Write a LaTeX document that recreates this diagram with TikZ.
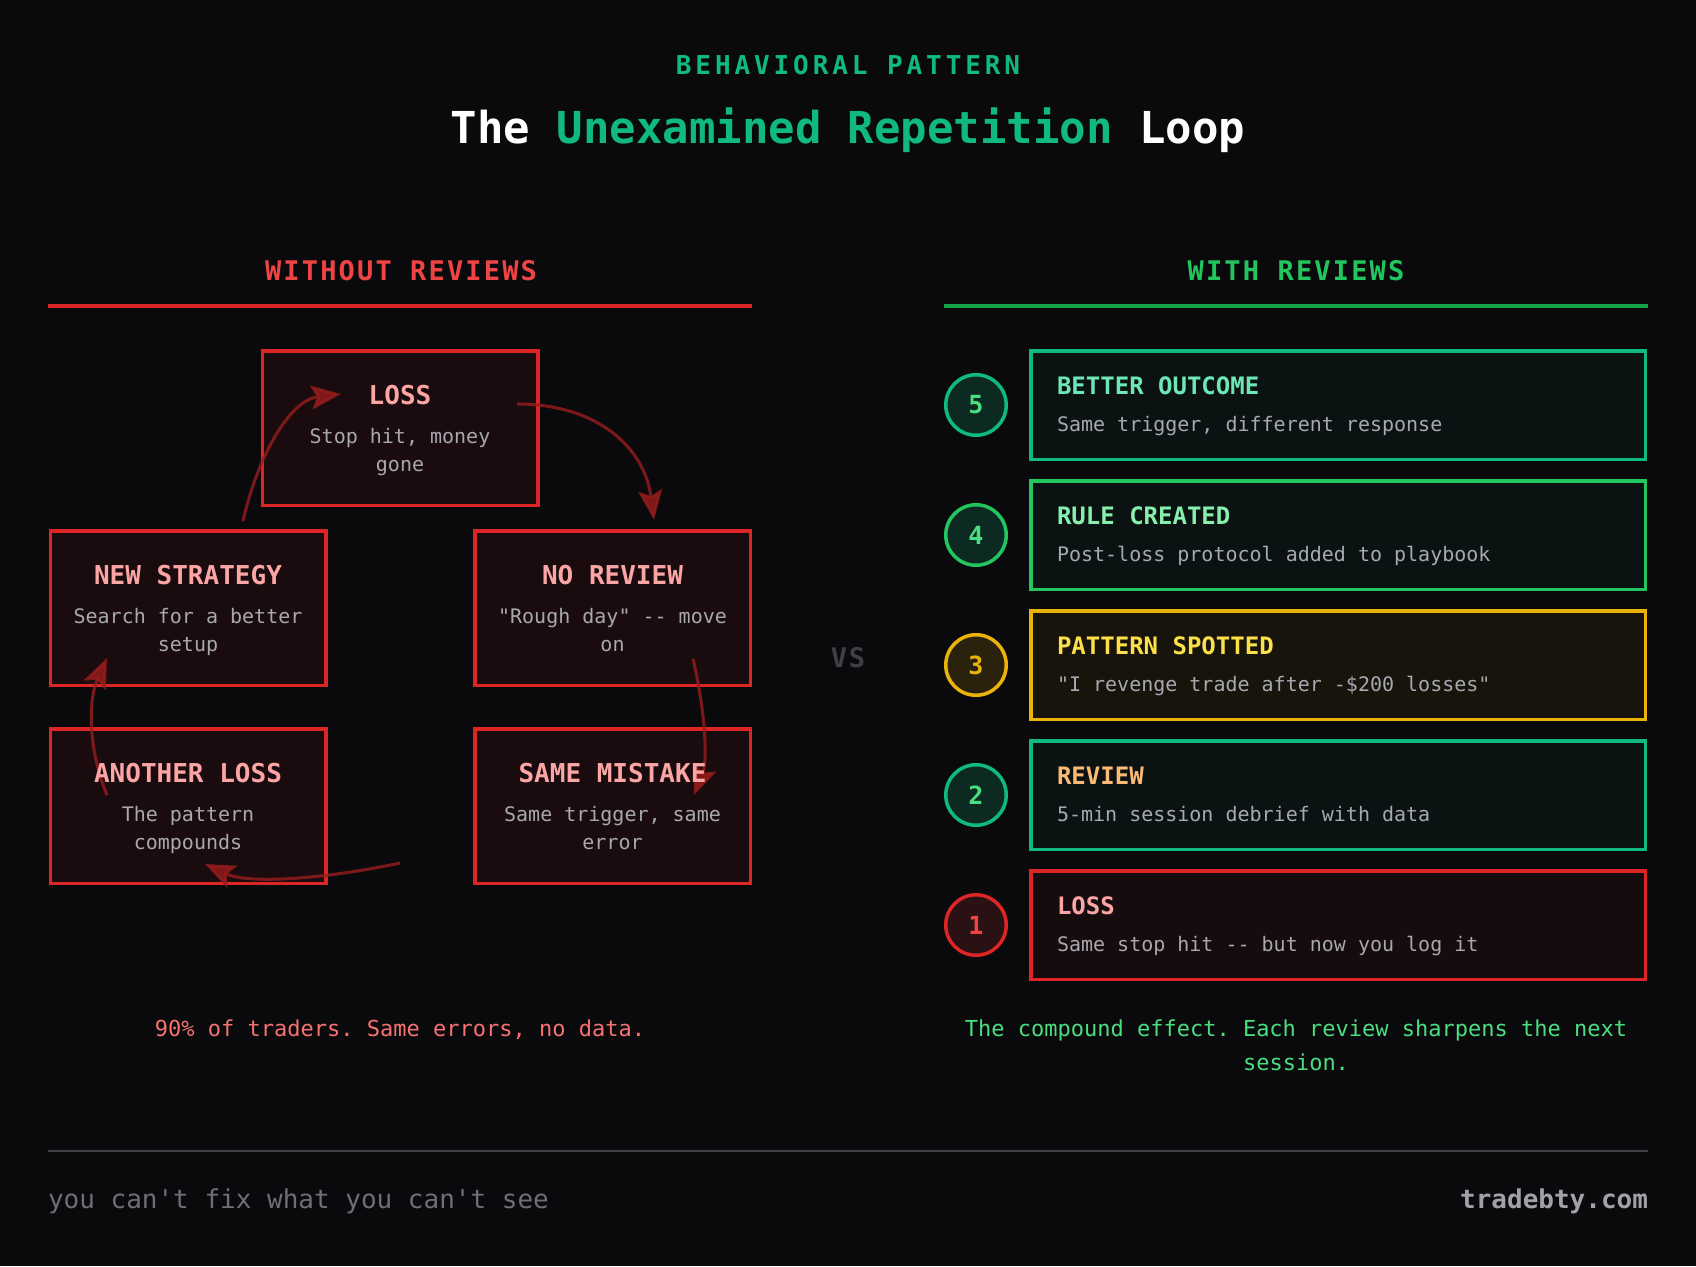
\documentclass[tikz,border=0pt]{standalone}
\usepackage{fontspec}
\usetikzlibrary{arrows.meta}
\newfontfamily\mono{DejaVu Sans Mono}
\newfontfamily\monoA[LetterSpace=15]{DejaVu Sans Mono}
\newfontfamily\monoB[LetterSpace=8]{DejaVu Sans Mono}
\newfontfamily\monoC[LetterSpace=6]{DejaVu Sans Mono}
\newcommand\fsz[1]{\fontsize{#1pt}{#1pt}\selectfont}
\frenchspacing
\definecolor{bg}{HTML}{0A0A0C}
\definecolor{redB}{HTML}{DC2626}
\definecolor{redH}{HTML}{EF4444}
\definecolor{redFill}{HTML}{1A0C0E}
\definecolor{redFillR}{HTML}{160B0D}
\definecolor{pink}{HTML}{FCA5A5}
\definecolor{subgray}{HTML}{A8A8B0}
\definecolor{emer}{HTML}{10B981}
\definecolor{grn}{HTML}{22C55E}
\definecolor{grnLine}{HTML}{16A34A}
\definecolor{grnFill}{HTML}{0B1312}
\definecolor{yel}{HTML}{EAB308}
\definecolor{yelFill}{HTML}{17140C}
\definecolor{yelT}{HTML}{FDE047}
\definecolor{mint}{HTML}{6EE7B7}
\definecolor{lgrn}{HTML}{86EFAC}
\definecolor{orng}{HTML}{FDBA74}
\definecolor{arrowred}{HTML}{961C1C}
\definecolor{vsgray}{HTML}{3F3F46}
\definecolor{footgray}{HTML}{6E6E76}
\definecolor{footlight}{HTML}{A1A1AA}
\definecolor{circG}{HTML}{0D2A22}
\definecolor{circY}{HTML}{2A220C}
\definecolor{circR}{HTML}{2A1113}
\definecolor{numG}{HTML}{4ADE80}
\definecolor{lowred}{HTML}{F87171}
\tikzset{
  txt/.style={inner sep=0pt, outer sep=0pt},
  lbox/.style={draw=redB, fill=redFill, line width=3.5pt, minimum width=275.5pt, minimum height=154.5pt, inner sep=0pt},
  rbox/.style={line width=3.5pt, minimum width=614.5pt, minimum height=108.5pt, inner sep=0pt},
  circ/.style={circle, line width=3.5pt, minimum size=60.5pt, inner sep=0pt},
  ltitle/.style={txt, anchor=base, text=pink, font=\mono\bfseries\fsz{26}},
  lsub/.style={txt, anchor=base, text=subgray, font=\mono\fsz{20}},
  rtitle/.style={txt, anchor=base west, font=\mono\bfseries\fsz{24}},
  rsub/.style={txt, anchor=base west, text=subgray, font=\mono\fsz{20}},
  num/.style={txt, font=\mono\bfseries\fsz{25}},
  loopar/.style={draw=arrowred, line width=3pt, opacity=0.82, -{Stealth[length=30pt,width=24pt,inset=6pt]}}
}
\begin{document}
\begin{tikzpicture}[x=1pt,y=-1pt]
\useasboundingbox (0,0) rectangle (1696,1266);
\fill[bg] (0,0) rectangle (1696,1266);

% header
\node[txt, anchor=base, text=emer, font=\monoA\bfseries\fsz{26}] (kicker) at (848,74) {BEHAVIORAL PATTERN};
\node[txt, anchor=base, font=\mono\bfseries\fsz{44}] (title) at (848,143) {\textcolor{white}{The} \textcolor{emer}{Unexamined Repetition} \textcolor{white}{Loop}};

% column headings
\node[txt, anchor=base, text=redH, font=\monoB\bfseries\fsz{27}] (hwo) at (401,280) {WITHOUT REVIEWS};
\draw[redB, line width=4pt] (48,305.5) -- (752,305.5);
\node[txt, anchor=base, text=grn, font=\monoB\bfseries\fsz{27}] (hwi) at (1296,280) {WITH REVIEWS};
\draw[grnLine, line width=4pt] (944,305.5) -- (1648,305.5);

% left boxes
\node[lbox] (bLoss) at (400,428) {};
\node[lbox] (bNew) at (188,608) {};
\node[lbox] (bNoRev) at (612.5,608) {};
\node[lbox] (bAnother) at (188,806) {};
\node[lbox] (bSame) at (612.5,806) {};

% loop arrows
\coordinate (a1s) at (517,404); \coordinate (a1e) at (654,520);
\coordinate (a2s) at (693,659); \coordinate (a2e) at (694,795);
\coordinate (a3s) at (400,863); \coordinate (a3e) at (205,864);
\coordinate (a4s) at (107,795); \coordinate (a4e) at (107,658);
\coordinate (a5s) at (243,521); \coordinate (a5e) at (341,394);
\draw[loopar] (a1s) .. controls (600,404) and (645,450) .. (a1e);
\draw[loopar] (a2s) .. controls (705,710) and (708,760) .. (a2e);
\draw[loopar] (a3s) .. controls (330,878) and (250,885) .. (a3e);
\draw[loopar] (a4s) .. controls (88,750) and (88,700) .. (a4e);
\draw[loopar] (a5s) .. controls (258,455) and (290,400) .. (a5e);

% left texts
\node[ltitle] (tLoss) at (400,404) {LOSS};
\node[lsub] (sLoss1) at (400,443) {Stop hit, money};
\node[lsub] (sLoss2) at (400,471) {gone};
\node[ltitle] (tNew) at (188,584) {NEW STRATEGY};
\node[lsub] (sNew1) at (188,623) {Search for a better};
\node[lsub] (sNew2) at (188,651) {setup};
\node[ltitle] (tNoRev) at (612.5,584) {NO REVIEW};
\node[lsub] (sNoRev1) at (612.5,623) {"Rough day" -{}- move};
\node[lsub] (sNoRev2) at (612.5,651) {on};
\node[ltitle] (tAnother) at (188,782) {ANOTHER LOSS};
\node[lsub] (sAnother1) at (188,821) {The pattern};
\node[lsub] (sAnother2) at (188,849) {compounds};
\node[ltitle] (tSame) at (612.5,782) {SAME MISTAKE};
\node[lsub] (sSame1) at (612.5,821) {Same trigger, same};
\node[lsub] (sSame2) at (612.5,849) {error};

% VS
\node[txt, anchor=base, text=vsgray, font=\monoC\bfseries\fsz{27}] (vs) at (848,667) {VS};

% right boxes
\node[rbox, draw=emer, fill=grnFill] (r5) at (1338,405) {};
\node[rbox, draw=grn, fill=grnFill] (r4) at (1338,535) {};
\node[rbox, draw=yel, fill=yelFill] (r3) at (1338,665) {};
\node[rbox, draw=emer, fill=grnFill] (r2) at (1338,795) {};
\node[rbox, draw=redB, fill=redFillR] (r1) at (1338,925) {};

\node[circ, draw=emer, fill=circG] (c5) at (976,405) {};
\node[circ, draw=grn, fill=circG] (c4) at (976,535) {};
\node[circ, draw=yel, fill=circY] (c3) at (976,665) {};
\node[circ, draw=emer, fill=circG] (c2) at (976,795) {};
\node[circ, draw=redB, fill=circR] (c1) at (976,925) {};
\node[num, text=numG] (n5) at (c5) {5};
\node[num, text=numG] (n4) at (c4) {4};
\node[num, text=yel] (n3) at (c3) {3};
\node[num, text=numG] (n2) at (c2) {2};
\node[num, text=redH] (n1) at (c1) {1};

\node[rtitle, text=mint] (t5) at (1057,394) {BETTER OUTCOME};
\node[rsub] (s5) at (1057,431) {Same trigger, different response};
\node[rtitle, text=lgrn] (t4) at (1057,524) {RULE CREATED};
\node[rsub] (s4) at (1057,561) {Post-loss protocol added to playbook};
\node[rtitle, text=yelT] (t3) at (1057,654) {PATTERN SPOTTED};
\node[rsub] (s3) at (1057,691) {"I revenge trade after -\$200 losses"};
\node[rtitle, text=orng] (t2) at (1057,784) {REVIEW};
\node[rsub] (s2) at (1057,821) {5-min session debrief with data};
\node[rtitle, text=pink] (t1) at (1057,914) {LOSS};
\node[rsub] (s1) at (1057,951) {Same stop hit -{}- but now you log it};

% captions
\node[txt, anchor=base, text=lowred, font=\mono\fsz{22}] (capL) at (400,1036) {90\% of traders. Same errors, no data.};
\node[txt, anchor=base, text=numG, font=\mono\fsz{22}] (capR1) at (1296,1036) {The compound effect. Each review sharpens the next};
\node[txt, anchor=base, text=numG, font=\mono\fsz{22}] (capR2) at (1296,1070) {session.};

% footer
\draw[vsgray, line width=2pt] (48,1151) -- (1648,1151);
\node[txt, anchor=base west, text=footgray, font=\mono\fsz{26}] (footL) at (48,1208) {you can't fix what you can't see};
\node[txt, anchor=base east, text=footlight, font=\mono\bfseries\fsz{26}] (footR) at (1648,1208) {tradebty.com};
\end{tikzpicture}
\end{document}
